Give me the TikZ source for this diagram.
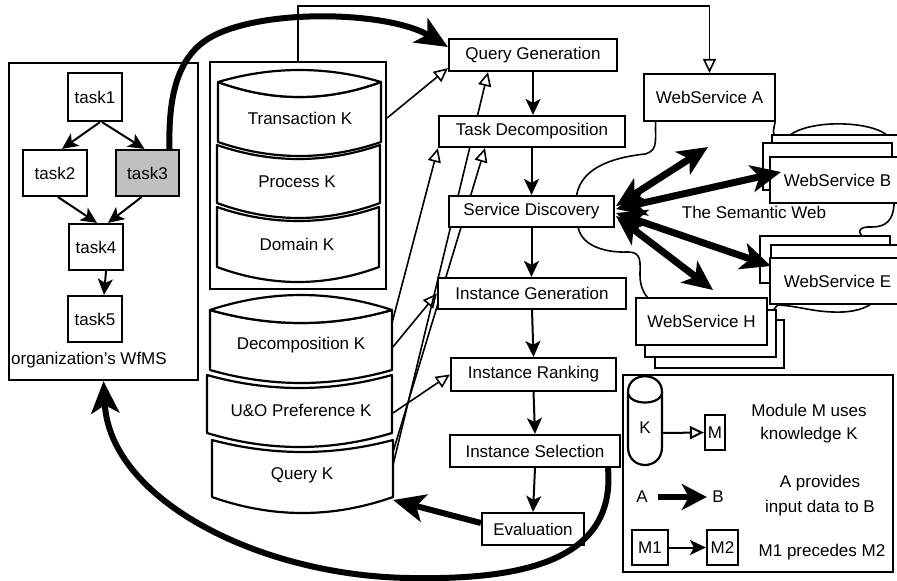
\documentclass[tikz,border=0pt]{standalone}
\usepackage{fontspec}
\setmainfont{Liberation Sans}
\usetikzlibrary{arrows.meta,calc,backgrounds}

% one slab of a knowledge cylinder: x1, x2, top edge y, bottom edge y, top dip, bottom dip
\newcommand\kslab[6]{%
  \draw[cyl] (#1,#3) -- (#1,#4)
    .. controls ({#1+(#2-#1)/3},{#4+4*#6/3}) and ({#2-(#2-#1)/3},{#4+4*#6/3}) .. (#2,#4)
    -- (#2,#3)
    .. controls ({#2-(#2-#1)/3},{#3+4*#5/3}) and ({#1+(#2-#1)/3},{#3+4*#5/3}) .. cycle;}
% lens-shaped lid on top of a cylinder: x1, x2, edge y, bulge, dip
\newcommand\kcap[5]{%
  \draw[cyl] (#1,#3)
    .. controls ({#1+(#2-#1)/3},{#3-4*#4/3}) and ({#2-(#2-#1)/3},{#3-4*#4/3}) .. (#2,#3)
    .. controls ({#2-(#2-#1)/3},{#3+4*#5/3}) and ({#1+(#2-#1)/3},{#3+4*#5/3}) .. cycle;}

\begin{document}
\begin{tikzpicture}[x=1pt,y=-1pt,
  font=\fontsize{17}{20}\selectfont,
  box/.style={draw, line width=2.2pt, fill=white, inner sep=0pt},
  cyl/.style={draw, line width=2.2pt, fill=white, line join=round},
  flow/.style={line width=2pt, -{Stealth[length=16pt,width=15pt,inset=4pt]}},
  uses/.style={line width=1.6pt, -{Triangle[open,length=14pt,width=13pt]}},
  feed/.style={line width=6pt, -{Stealth[length=32pt,width=28pt,inset=8pt]}},
  web/.style={line width=7pt, {Stealth[length=30pt,width=27pt,inset=8pt]}-{Stealth[length=30pt,width=27pt,inset=8pt]}},
  stack/.style={draw, line width=2.2pt, fill=white},
]
\useasboundingbox (0,0) rectangle (897,581);
\clip (0,0) rectangle (897,581);

% ---------------- workflow system ----------------
\node[box, minimum width=189pt, minimum height=317pt] (wfms) at (103.5,221.5) {};
\node[anchor=west, inner sep=0pt] (wflabel) at (11,360) {organization’s WfMS};
\node[box, minimum width=54pt, minimum height=48pt] (task1) at (95,97) {task1};
\node[box, minimum width=64pt, minimum height=46pt] (task2) at (55,173) {task2};
\node[box, minimum width=63pt, minimum height=46pt, fill={rgb,255:red,192;green,192;blue,192}] (task3) at (147.5,173) {task3};
\node[box, minimum width=54pt, minimum height=46pt] (task4) at (96,247) {task4};
\node[box, minimum width=54pt, minimum height=46pt] (task5) at (95,319) {task5};

\draw[flow] ($(task1.south)+(5,0)$) -- ($(task2.north)+(7,0)$);
\draw[flow] ($(task1.south)+(7,0)$) -- ($(task3.north)+(-3,0)$);
\draw[flow] ($(task2.south)+(3,0)$) -- ($(task4.north)+(1,0)$);
\draw[flow] ($(task3.south)+(-6,0)$) -- ($(task4.north)+(12,0)$);
\draw[flow] ($(task4.south)+(10,0)$) -- ($(task5.north)+(9,0)$);

% ---------------- knowledge bases ----------------
\node[box, minimum width=176pt, minimum height=227pt] (kbox) at (298,175.5) {};
\kslab{218}{381}{82}{142}{15}{14}
\kcap{218}{381}{82}{12}{15}
\kslab{217}{380}{145}{203}{14}{15}
\kslab{217}{379}{207}{267}{14}{15}
\node (transK) at (300,118) {Transaction K};
\node (procK) at (297,182) {Process K};
\node (domK) at (297,244) {Domain K};

\kslab{210}{392}{310}{370}{13}{13}
\kcap{210}{392}{310}{15}{13}
\kslab{207}{392}{375}{433}{13}{14}
\kslab{212}{393}{440}{497}{12}{16}
\node (decK) at (301,345) {Decomposition K};
\node (uoK) at (301,410) {U\&O Preference K};
\node (qK) at (302,475) {Query K};

\coordinate (decA) at (392,323);
\coordinate (decB) at (392,348);
\coordinate (uoA) at (393,413);
\coordinate (qkA) at (393,452);
\coordinate (qkB) at (393,465);
\coordinate (qkIn) at (393,500);

% ---------------- discovery modules ----------------
\node[box, minimum width=168pt, minimum height=32pt] (qg) at (533,55) {Query Generation};
\node[box, minimum width=186pt, minimum height=31pt] (td) at (532,131.5) {Task Decomposition};
\node[box, minimum width=165pt, minimum height=31pt] (sd) at (531.5,211.5) {Service Discovery};
\node[box, minimum width=188pt, minimum height=31pt] (ig) at (532,293.5) {Instance Generation};
\node[box, minimum width=165pt, minimum height=33pt] (ir) at (533.5,374.5) {Instance Ranking};
\node[box, minimum width=170pt, minimum height=32pt] (is) at (535,451) {Instance Selection};
\node[box, minimum width=102pt, minimum height=32pt] (ev) at (533,529) {Evaluation};

\draw[flow] (qg.south) -- (qg.south |- td.north);
\draw[flow] (sd.north |- td.south) -- (sd.north);
\draw[flow] (sd.south) -- (sd.south |- ig.north);
\draw[flow] (ig.south) -- (ir.north);
\draw[flow] (ir.south) -- (is.north);
\draw[flow] (is.south) -- (ev.north);

% ---------------- web services ----------------
\node[box, minimum width=131pt, minimum height=47pt] (wsA) at (709.5,97.5) {WebService A};

\node[stack, minimum width=133pt, minimum height=50pt] (wsBback) at (838.5,160) {};
\node[stack, minimum width=129pt, minimum height=47pt] (wsBmid) at (827.5,166.5) {};
\node[box, minimum width=135pt, minimum height=46pt] (wsB) at (837.5,180) {WebService B};

\node[stack, minimum width=130pt, minimum height=47pt] (wsEback) at (825,259.5) {};
\node[stack, minimum width=134pt, minimum height=45pt] (wsEmid) at (838,267.5) {};
\node[box, minimum width=135pt, minimum height=46pt] (wsE) at (837.5,281) {WebService E};

\node[stack, minimum width=129pt, minimum height=48pt] (wsHback) at (719.5,344) {};
\node[stack, minimum width=131pt, minimum height=47pt] (wsHmid) at (710.5,333.5) {};
\node[box, minimum width=131pt, minimum height=47pt] (wsH) at (701.5,321.5) {WebService H};

\node (sw) at (754,212) {The Semantic Web};

\coordinate (webA) at (708,147);
\coordinate (webB) at (781,172);
\coordinate (webE) at (771,266);
\coordinate (webH) at (713,290);
\coordinate (sdA) at (616,206);
\coordinate (sdB) at (616,209);
\coordinate (sdE) at (616,213);
\coordinate (sdH) at (616,216);

\begin{scope}[on background layer]
  % the cloud of the semantic web
  \draw[line width=1.6pt, fill=white]
    (656,118)
    .. controls (654,138) and (660,150) .. (645,154)
    .. controls (608,158) and (578,170) .. (576,200)
    -- (578,226)
    .. controls (580,244) and (602,253) .. (628,252)
    .. controls (642,252) and (640,262) .. (640,275)
    .. controls (640,288) and (645,296) .. (652,302)
    -- (770,318)
    .. controls (772,312) and (774,308) .. (778,305)
    .. controls (800,306) and (815,313) .. (843,312)
    .. controls (860,311) and (870,306) .. (876,300)
    -- (894,290) -- (894,250) -- (868,240)
    .. controls (855,233) and (858,226) .. (872,227)
    .. controls (886,227) and (893,220) .. (894,205)
    -- (894,140) -- (888,136)
    .. controls (872,121) and (812,119) .. (790,135)
    -- (775,136)
    .. controls (771,130) and (776,126) .. (775,118)
    -- cycle;

  % knowledge used by the modules
  \draw[uses] (kbox.north) -- ++(0,-55) -| (wsA.north);
  \draw[uses] (kbox.east |- transK) -- ($(qg.south west)+(0,-4)$);
  \draw[uses] (decA) -- (td.south west);
  \draw[uses] (decB) -- (ig.west);
  \draw[uses] (uoA) -- (ir.west);
  \draw[uses] (qkA) -- ($(td.south)+(-47,0)$);
  \draw[uses] (qkB) -- ($(qg.south)+(-45,0)$);
\end{scope}

% data exchanged with the web services
\draw[web] (sdA) -- (webA);
\draw[web] (sdB) -- (webB);
\draw[web] (sdE) -- (webE);
\draw[web] (sdH) -- (webH);

% input data flows
\draw[feed] ($(task3.north)+(22,0)$)
  .. controls (168,90) and (180,52) .. (215,35)
  .. controls (270,8) and (390,12) .. ($(qg.west)+(0,-8)$);
\draw[feed] ($(is.south)+(73,0)$)
  .. controls (616,562) and (520,580) .. (410,578)
  .. controls (260,576) and (110,500) .. (wfms.south);
\draw[feed] ($(ev.west)+(0,-6)$) -- (qkIn);

% ---------------- legend ----------------
\node[box, minimum width=270pt, minimum height=197pt] (legend) at (758,473.5) {};
\draw[cyl] (628,392) -- (628,447)
  .. controls (628,471) and (662,471) .. (662,447) -- (662,392)
  .. controls (662,371) and (628,371) .. cycle;
\draw[cyl] (628,392) .. controls (628,406) and (662,406) .. (662,392);
\node (lk) at (645,428) {K};
\coordinate (lkout) at (662,433);
\node[box, minimum width=20pt, minimum height=35pt] (lm) at (715,432.5) {M};
\draw[uses, line width=2pt] (lkout) -- (lm.west);
\node[align=center, inner sep=0pt] (lt1) at (809,423.5) {Module M uses\\[3pt]knowledge K};

\node (la) at (642,497) {A};
\node (lb) at (718,497) {B};
\draw[line width=5.5pt, -{Stealth[length=25pt,width=26pt,inset=7pt]}, shorten <=7pt, shorten >=2pt] (la.east) -- (lb.west);
\node[align=center, inner sep=0pt] (lt2) at (820,495.5) {A provides\\[5pt]input data to B};

\node[box, minimum width=36pt, minimum height=35pt] (m1) at (650,547.5) {M1};
\node[box, minimum width=31pt, minimum height=35pt] (m2) at (722.5,547.5) {M2};
\draw[flow] (m1.east) -- (m2.west);
\node (lt3) at (822,552) {M1 precedes M2};
\end{tikzpicture}
\end{document}
